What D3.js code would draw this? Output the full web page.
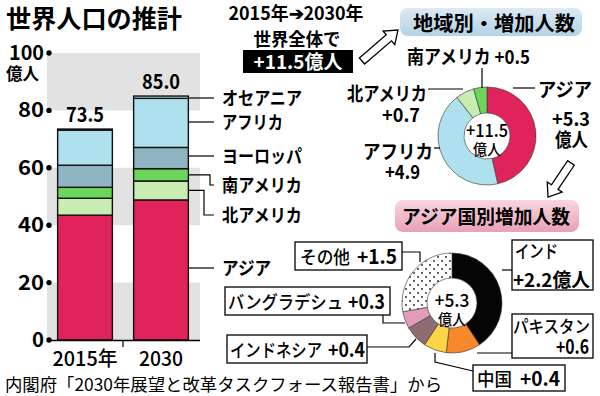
<!DOCTYPE html>
<html>
<head>
<meta charset="utf-8">
<style>
  body { margin: 0; background: #fff; }
  svg { display: block; font-family: "Noto Sans CJK JP", "Noto Sans", sans-serif; }
</style>
</head>
<body>
<svg width="600" height="396"></svg>
<script src="https://cdnjs.cloudflare.com/ajax/libs/d3/7.8.5/d3.min.js"></script>
<script>
// ---- data (億人) ----
const years = ["2015年", "2030"];
const regions = ["アジア", "北アメリカ", "南アメリカ", "ヨーロッパ", "アフリカ", "オセアニア"];
const pop2015 = [43.5, 5.9, 3.8, 7.7, 12.2, 0.4];
const pop2030 = [48.8, 6.6, 4.3, 7.4, 17.1, 0.8];
const totalLabels = ["73.5", "85.0"];
const yTicks = [0, 20, 40, 60, 80, 100];
const greyBands = [[0, 20], [40, 60], [80, 100]];

const gainRegions = ["アジア", "アフリカ", "北アメリカ", "南アメリカ"];
const gainValues = [5.3, 4.9, 0.7, 0.5];

const asiaCountries = ["インド", "パキスタン", "中国", "インドネシア", "バングラデシュ", "その他"];
const asiaGains = [2.2, 0.6, 0.4, 0.4, 0.3, 1.5];

const regionColor = d3.scaleOrdinal()
  .domain(regions)
  .range(["#e1235c", "#c8ecb1", "#6cd65c", "#8fb4c4", "#aee1ed", "#aee1ed"]);
const countryColor = d3.scaleOrdinal()
  .domain(asiaCountries)
  .range(["#050505", "#f7892c", "#fbd447", "#8d6d71", "#e39bbb", "url(#dots)"]);

const svg = d3.select("svg");

// text helper: squeeze to the width measured on the reference
function txt(parent, str, x, y, o) {
  o = o || {};
  const t = parent.append("text").attr("x", x).attr("y", y)
    .attr("text-anchor", o.anchor || "start")
    .style("font-size", (o.size || 18) + "px")
    .style("font-weight", o.weight || 700)
    .attr("fill", o.fill || "#000")
    .text(str);
  if (o.len) t.attr("textLength", o.len).attr("lengthAdjust", "spacingAndGlyphs");
  return t;
}

const defs = svg.append("defs");
const pat = defs.append("pattern").attr("id", "dots")
  .attr("patternUnits", "userSpaceOnUse").attr("width", 8).attr("height", 8);
pat.append("rect").attr("width", 8).attr("height", 8).attr("fill", "#fff");
pat.append("circle").attr("cx", 2).attr("cy", 2).attr("r", 0.9).attr("fill", "#222");
pat.append("circle").attr("cx", 6).attr("cy", 6).attr("r", 0.9).attr("fill", "#222");

const gBlue = defs.append("linearGradient").attr("id", "gblue").attr("x1", 0).attr("x2", 0).attr("y1", 0).attr("y2", 1);
gBlue.append("stop").attr("offset", 0).attr("stop-color", "#dbeaf4");
gBlue.append("stop").attr("offset", 1).attr("stop-color", "#b3d2e6");
const gPink = defs.append("linearGradient").attr("id", "gpink").attr("x1", 0).attr("x2", 0).attr("y1", 0).attr("y2", 1);
gPink.append("stop").attr("offset", 0).attr("stop-color", "#f8d6df");
gPink.append("stop").attr("offset", 1).attr("stop-color", "#e9a0b6");

// ---- title ----
txt(svg, "世界人口の推計", 6, 28, { size: 25, len: 176 });

// ---- stacked bars ----
const x = d3.scaleBand().domain(years).range([47, 199]).paddingInner(0.28).paddingOuter(0.14);
const y = d3.scaleLinear().domain([0, 100]).range([340, 53]);

svg.append("g").selectAll("rect").data(greyBands).join("rect")
  .attr("x", 47).attr("width", 153)
  .attr("y", d => y(d[1])).attr("height", d => y(d[0]) - y(d[1]))
  .attr("fill", "#e2e2e2");

const rows = years.map((yr, i) => {
  const r = { year: yr };
  regions.forEach((k, j) => r[k] = (i === 0 ? pop2015 : pop2030)[j]);
  return r;
});
const series = d3.stack().keys(regions)(rows);

svg.append("g").selectAll("g").data(series).join("g")
  .attr("fill", d => regionColor(d.key))
  .selectAll("rect").data(d => d).join("rect")
  .attr("x", d => x(d.data.year))
  .attr("width", x.bandwidth())
  .attr("y", d => y(d[1]))
  .attr("height", d => y(d[0]) - y(d[1]))
  .attr("stroke", "#111").attr("stroke-width", 1.4);

// bar totals
years.forEach((yr, i) => {
  txt(svg, totalLabels[i], x(yr) + x.bandwidth() / 2, y(d3.sum(i === 0 ? pop2015 : pop2030)) - 7,
    { size: 20, anchor: "middle", len: 38 });
});

// y axis labels + dots
yTicks.forEach(v => {
  txt(svg, String(v), 44, y(v) + 7, { size: 20, anchor: "end", len: v === 100 ? 35 : v === 0 ? 12 : 26 });
});
svg.append("g").selectAll("circle").data(yTicks).join("circle")
  .attr("cx", 49).attr("cy", d => y(d)).attr("r", 2.7).attr("fill", "#000");
txt(svg, "億人", 6, 80, { size: 17, len: 33 });

// x axis
svg.append("line").attr("x1", 47).attr("x2", 200).attr("y1", y(0) + 0.5).attr("y2", y(0) + 0.5)
  .attr("stroke", "#000").attr("stroke-width", 1.5);
svg.append("line").attr("x1", 123).attr("x2", 123).attr("y1", y(0)).attr("y2", y(0) + 7)
  .attr("stroke", "#000").attr("stroke-width", 1.2);
years.forEach((yr, i) => {
  txt(svg, yr, x(yr) + x.bandwidth() / 2, 366, { size: 20, anchor: "middle", weight: 500, len: i === 0 ? 65 : 44 });
});

// region legend with leader lines (from 2030 bar)
const s2030 = {};
series.forEach(s => s2030[s.key] = s[1]);
const mid = k => y((s2030[k][0] + s2030[k][1]) / 2);
const bx = x("2030") + x.bandwidth();
const legendY = { "オセアニア": 98, "アフリカ": 122, "ヨーロッパ": 156, "南アメリカ": 185, "北アメリカ": 215, "アジア": 268 };
const legendW = { "オセアニア": 80, "アフリカ": 61, "ヨーロッパ": 80, "南アメリカ": 80, "北アメリカ": 80, "アジア": 49 };
const elbowX = { "南アメリカ": 210, "北アメリカ": 204 };
const lg = svg.append("g");
Object.keys(legendY).forEach(k => {
  const ly = legendY[k];
  let pts;
  if (elbowX[k]) pts = [[bx, mid(k)], [elbowX[k], mid(k)], [elbowX[k], ly], [214, ly]];
  else pts = [[bx, ly], [214, ly]];
  lg.append("path").attr("d", d3.line()(pts)).attr("fill", "none")
    .attr("stroke", "#000").attr("stroke-width", 1.2);
  txt(lg, k, 222, ly + 7, { size: 18, len: legendW[k] });
});

// ---- top middle note ----
txt(svg, "2015年➔2030年", 296, 20, { size: 18, anchor: "middle", len: 135 });
txt(svg, "世界全体で", 297, 46, { size: 18, anchor: "middle", len: 87 });
svg.append("rect").attr("x", 243).attr("y", 50).attr("width", 110).attr("height", 23).attr("fill", "#000");
txt(svg, "+11.5億人", 298, 69, { size: 19, anchor: "middle", fill: "#fff", len: 89 });

// hollow arrows
function arrow(x0, y0, x1, y1) {
  const L = Math.hypot(x1 - x0, y1 - y0), hl = 12, sw = 4, hw = 9;
  const pts = [[0, -sw], [L - hl, -sw], [L - hl, -hw], [L, 0], [L - hl, hw], [L - hl, sw], [0, sw]];
  const a = Math.atan2(y1 - y0, x1 - x0) * 180 / Math.PI;
  svg.append("path").attr("d", d3.line()(pts) + "Z")
    .attr("transform", `translate(${x0},${y0}) rotate(${a})`)
    .attr("fill", "#fff").attr("stroke", "#000").attr("stroke-width", 1.3);
}
arrow(362, 61, 398, 30);
arrow(571, 163, 548, 197);

// ---- donut 1 : region gains ----
const pie = d3.pie().sort(null).value(d => d.v);
const arc1 = d3.arc().innerRadius(23).outerRadius(49);
const d1 = svg.append("g").attr("transform", "translate(487,136)");
d1.selectAll("path").data(pie(gainRegions.map((k, i) => ({ k, v: gainValues[i] })))).join("path")
  .attr("d", arc1).attr("fill", d => regionColor(d.data.k))
  .attr("stroke", "#333").attr("stroke-width", 0.6);
txt(d1, "+11.5", 0, 1, { size: 18, anchor: "middle", weight: 500, len: 42 });
txt(d1, "億人", 0, 19, { size: 15, anchor: "middle", weight: 500, len: 28 });

svg.append("path").attr("d", "M408,8h166a8,8 0 0 1 8,8v12a8,8 0 0 1 -8,8h-166a8,8 0 0 1 -8,-8v-12a8,8 0 0 1 8,-8Z")
  .attr("fill", "url(#gblue)");
txt(svg, "地域別・増加人数", 494, 31, { size: 20, anchor: "middle", len: 162 });

const lines1 = [
  [[482, 68], [482, 88]],
  [[428, 89], [463, 89]],
  [[434, 148], [440, 148]],
  [[513, 88], [535, 88]]
];
lines1.forEach(p => svg.append("path").attr("d", d3.line()(p)).attr("stroke", "#000").attr("stroke-width", 1.2));
const lab1 = [
  ["南アメリカ +" + gainValues[3], 407, 64, 123],
  ["北アメリカ", 347, 101, 80],
  ["+" + gainValues[2], 382, 122, 38],
  ["アフリカ", 363, 159, 70],
  ["+" + gainValues[1], 385, 179, 35],
  ["アジア", 538, 97, 54],
  ["+" + gainValues[0], 552, 126, 38],
  ["億人", 555, 147, 33]
];
lab1.forEach(([t, lx, ly, w]) => txt(svg, t, lx, ly, { size: 19, len: w }));

// ---- donut 2 : Asia by country ----
svg.append("path").attr("d", "M403,200h168a8,8 0 0 1 8,8v16a8,8 0 0 1 -8,8h-168a8,8 0 0 1 -8,-8v-16a8,8 0 0 1 8,-8Z")
  .attr("fill", "url(#gpink)");
txt(svg, "アジア国別増加人数", 402, 224, { size: 19, len: 168 });

const arc2 = d3.arc().innerRadius(25).outerRadius(50);
const d2 = svg.append("g").attr("transform", "translate(452,303)");
d2.selectAll("path").data(pie(asiaCountries.map((k, i) => ({ k, v: asiaGains[i] })))).join("path")
  .attr("d", arc2).attr("fill", d => countryColor(d.data.k))
  .attr("stroke", "#333").attr("stroke-width", 0.6);
txt(d2, "+5.3", 0, 4, { size: 18, anchor: "middle", weight: 500, len: 35 });
txt(d2, "億人", 0, 22, { size: 15, anchor: "middle", weight: 500, len: 28 });

const lines2 = [
  [[402, 252], [420, 252], [420, 262]],
  [[502, 270], [512, 270]],
  [[383, 315], [383, 323], [405, 323]],
  [[367, 347], [409, 347], [416, 339]],
  [[477, 353], [512, 353]],
  [[435, 353], [435, 362], [473, 371]]
];
lines2.forEach(p => svg.append("path").attr("d", d3.line()(p)).attr("fill", "none")
  .attr("stroke", "#000").attr("stroke-width", 1.2));

// label boxes: [x, y, w, h]
const boxes = [
  [295, 242, 107, 28],
  [512, 240, 81, 50],
  [225, 287, 165, 28],
  [512, 314, 81, 44],
  [227, 335, 140, 28],
  [473, 365, 92, 26]
];
svg.append("g").selectAll("rect").data(boxes).join("rect")
  .attr("x", d => d[0]).attr("y", d => d[1]).attr("width", d => d[2]).attr("height", d => d[3])
  .attr("fill", "#fff").attr("stroke", "#000").attr("stroke-width", 1.3);

// name part and number part as separate texts
const boxLabels = [
  // [name, nameX, nameW, value, valueX, valueW, baseline]
  ["その他", 300, 50, asiaGains[5], 357, 40, 264],
  ["バングラデシュ", 228, 115, asiaGains[4], 348, 37, 309],
  ["インドネシア", 230, 92, asiaGains[3], 328, 37, 357],
  ["中国", 477, 35, asiaGains[2], 520, 40, 386]
];
boxLabels.forEach(([n, nx, nw, v, vx, vw, by]) => {
  txt(svg, n, nx, by, { size: 18, weight: 500, len: nw });
  txt(svg, "+" + v, vx, by, { size: 20, len: vw });
});
txt(svg, "インド", 515, 258, { size: 18, weight: 500, len: 43 });
txt(svg, "+" + asiaGains[0] + "億人", 513, 287, { size: 19, len: 77 });
txt(svg, "パキスタン", 513, 333, { size: 17, weight: 500, len: 77 });
txt(svg, "+" + asiaGains[1], 589, 354, { size: 20, anchor: "end", len: 33 });

// ---- source ----
txt(svg, "内閣府「2030年展望と改革タスクフォース報告書」から", 5, 391, { size: 17, weight: 400, len: 437 });
</script>
</body>
</html>
